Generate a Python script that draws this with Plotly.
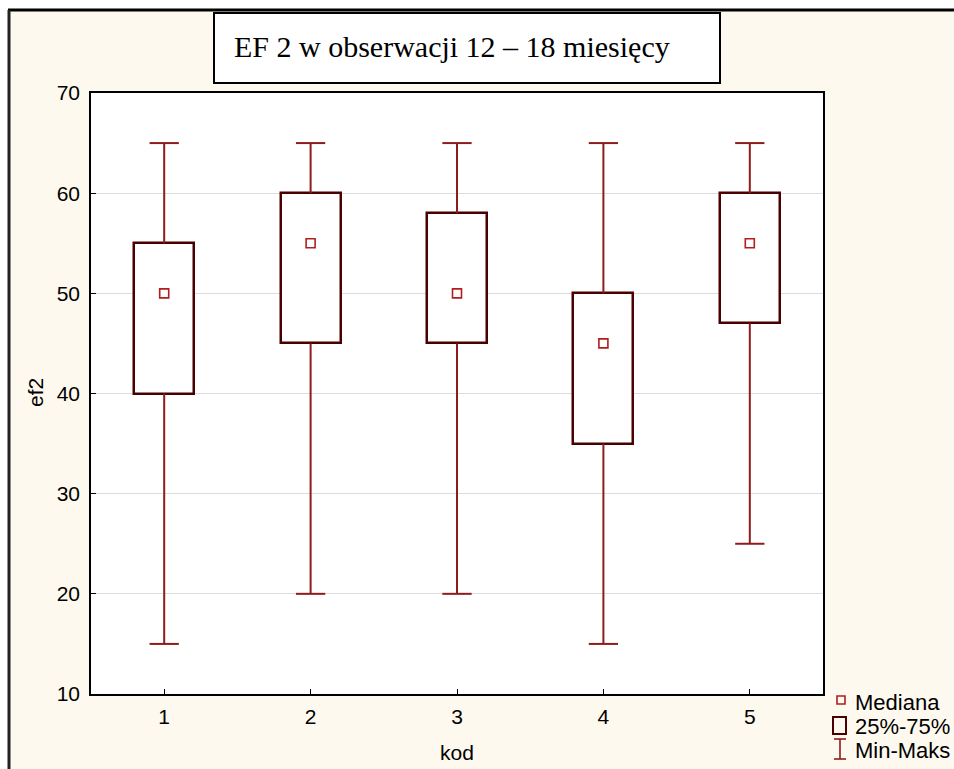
import plotly.graph_objects as go

# ---- data ----
categories = [1, 2, 3, 4, 5]
mins = [15, 20, 20, 15, 25]
q1s = [40, 45, 45, 35, 47]
medians = [50, 55, 50, 45, 55]
q3s = [55, 60, 58, 50, 60]
maxs = [65, 65, 65, 65, 65]
y_ticks = [10, 20, 30, 40, 50, 60, 70]
legend_labels = ["Mediana", "25%-75%", "Min-Maks"]

BOX_W = 0.41
CAP_W = 0.2
BOX_COL = "#4a0000"
WHISK_COL = "#8e1c1c"
MED_COL = "#b01e1e"
CREAM = "#fef9ee"

# plot area pixel geometry
W, H = 954, 769
L, R, T, B = 91, 823, 93, 694


def px(x):
    return (x - L) / (R - L)


def py(y):
    return (B - y) / (B - T)


fig = go.Figure()

# boxes
fig.add_trace(go.Bar(
    x=categories,
    y=[q3 - q1 for q1, q3 in zip(q1s, q3s)],
    base=q1s,
    width=BOX_W,
    marker=dict(color="white", line=dict(color=BOX_COL, width=2.5)),
    hoverinfo="skip",
    showlegend=False,
))

# whiskers + caps
wx, wy = [], []
for c, lo, a, b, hi in zip(categories, mins, q1s, q3s, maxs):
    wx += [c, c, None, c, c, None, c - CAP_W / 2, c + CAP_W / 2, None, c - CAP_W / 2, c + CAP_W / 2, None]
    wy += [b, hi, None, a, lo, None, hi, hi, None, lo, lo, None]
fig.add_trace(go.Scatter(
    x=wx, y=wy, mode="lines",
    line=dict(color=WHISK_COL, width=2),
    hoverinfo="skip", showlegend=False,
))

# medians
fig.add_trace(go.Scatter(
    x=categories, y=medians, mode="markers",
    marker=dict(symbol="square-open", size=9, color=MED_COL, line=dict(width=1.6, color=MED_COL)),
    showlegend=False,
))

shapes = []
# white strips outside the outer frame (top / left)
shapes.append(dict(type="rect", xref="paper", yref="paper",
                   x0=px(-5), x1=px(W + 5), y0=py(9), y1=py(-5),
                   fillcolor="white", line=dict(width=0), layer="above"))
shapes.append(dict(type="rect", xref="paper", yref="paper",
                   x0=px(-5), x1=px(8), y0=py(H + 5), y1=py(-5),
                   fillcolor="white", line=dict(width=0), layer="above"))
# outer frame lines
shapes.append(dict(type="line", xref="paper", yref="paper",
                   x0=px(8), x1=px(W + 5), y0=py(10), y1=py(10),
                   line=dict(color="black", width=3), layer="above"))
shapes.append(dict(type="line", xref="paper", yref="paper",
                   x0=px(9), x1=px(9), y0=py(10), y1=py(H + 5),
                   line=dict(color="#222", width=3), layer="above"))
# title box
shapes.append(dict(type="rect", xref="paper", yref="paper",
                   x0=px(214), x1=px(720), y0=py(83), y1=py(13),
                   fillcolor="white", line=dict(color="black", width=2), layer="above"))
# legend symbols
shapes.append(dict(type="rect", xref="paper", yref="paper",
                   x0=px(837), x1=px(845), y0=py(704), y1=py(696),
                   fillcolor="rgba(0,0,0,0)", line=dict(color=MED_COL, width=1.6), layer="above"))
shapes.append(dict(type="rect", xref="paper", yref="paper",
                   x0=px(833), x1=px(846), y0=py(734), y1=py(717),
                   fillcolor="rgba(0,0,0,0)", line=dict(color=BOX_COL, width=2), layer="above"))
shapes.append(dict(type="line", xref="paper", yref="paper",
                   x0=px(840), x1=px(840), y0=py(759), y1=py(739),
                   line=dict(color=WHISK_COL, width=1.6), layer="above"))
shapes.append(dict(type="line", xref="paper", yref="paper",
                   x0=px(834), x1=px(846), y0=py(739), y1=py(739),
                   line=dict(color=WHISK_COL, width=1.6), layer="above"))
shapes.append(dict(type="line", xref="paper", yref="paper",
                   x0=px(834), x1=px(846), y0=py(759), y1=py(759),
                   line=dict(color=WHISK_COL, width=1.6), layer="above"))

sans = "Liberation Sans, Arial, sans-serif"
annotations = [
    dict(text="EF 2 w obserwacji 12 – 18 miesięcy", xref="paper", yref="paper",
         x=px(232), y=py(46), xanchor="left", yanchor="middle", showarrow=False,
         font=dict(family="Liberation Serif, Times New Roman, serif", size=30, color="black")),
    dict(text="ef2", xref="paper", yref="paper", x=px(35), y=py(393),
         xanchor="center", yanchor="middle", textangle=-90, showarrow=False,
         font=dict(family=sans, size=21, color="black")),
    dict(text="kod", xref="paper", yref="paper", x=px(457), y=py(752),
         xanchor="center", yanchor="middle", showarrow=False,
         font=dict(family=sans, size=21, color="black")),
]
for lab, yy in zip(legend_labels, [702, 726, 750]):
    annotations.append(dict(text=lab, xref="paper", yref="paper", x=px(853), y=py(yy),
                            xanchor="left", yanchor="middle", showarrow=False,
                            font=dict(family=sans, size=22, color="black")))

fig.update_layout(
    width=W, height=H,
    margin=dict(l=L, r=W - R, t=T, b=H - B, pad=0),
    paper_bgcolor=CREAM, plot_bgcolor="white",
    shapes=shapes, annotations=annotations,
    bargap=0, showlegend=False,
    font=dict(family=sans, size=21, color="black"),
)
fig.update_xaxes(
    range=[0.5, 5.5], tickvals=categories, ticktext=[str(c) for c in categories],
    showgrid=False, zeroline=False, showline=True, linecolor="black", linewidth=1.5, mirror=True,
    ticks="inside", ticklen=5, tickcolor="black", tickfont=dict(size=21),
    ticklabelstandoff=3,
)
fig.update_yaxes(
    range=[10, 70], tickvals=y_ticks, ticktext=[str(v) for v in y_ticks],
    showgrid=True, gridcolor="#dcdcdc", gridwidth=1, zeroline=False,
    showline=True, linecolor="black", linewidth=1.5, mirror=True,
    ticks="inside", ticklen=5, tickcolor="black", tickfont=dict(size=21),
    ticklabelstandoff=5,
)

fig.write_html("out.html")
